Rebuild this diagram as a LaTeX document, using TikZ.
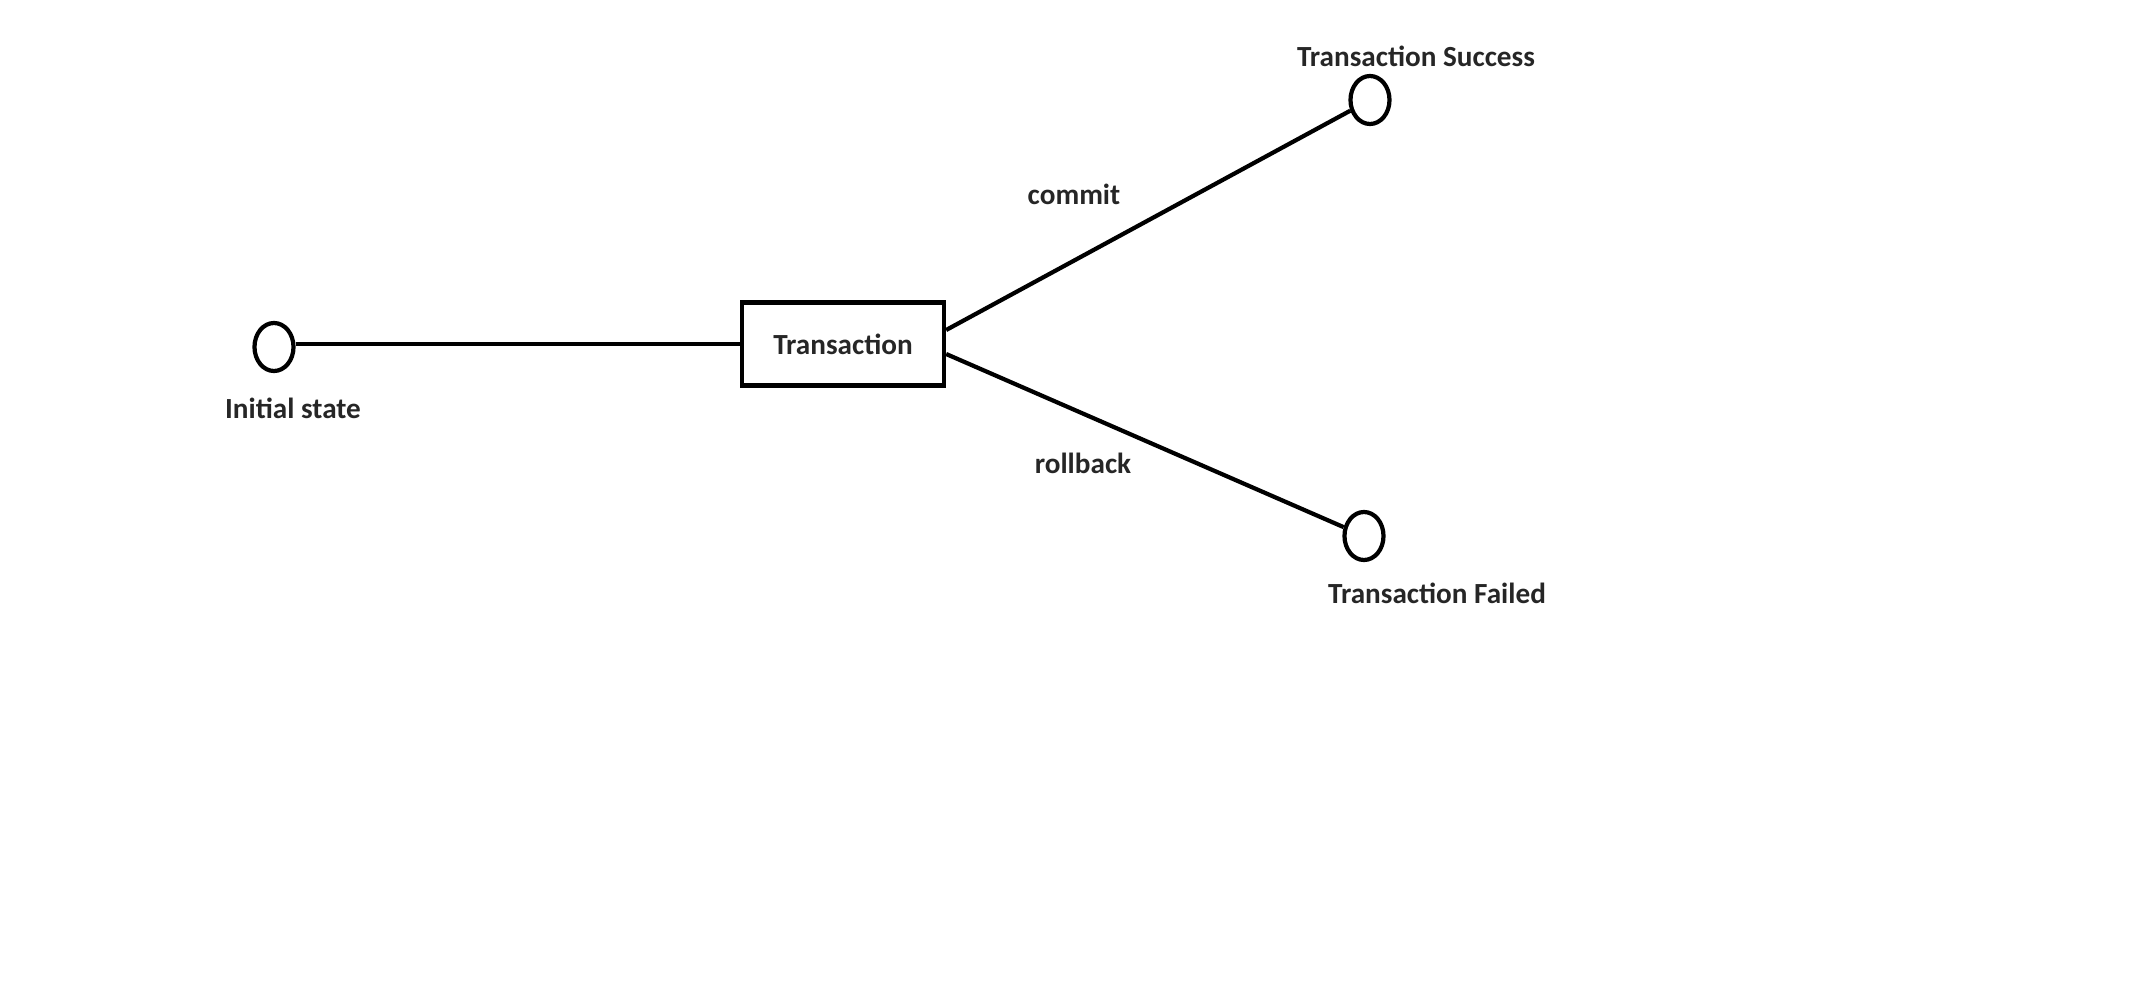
\documentclass[tikz,border=0pt]{standalone}
\usepackage{fontspec}
\setmainfont{Carlito}
\usetikzlibrary{shapes.geometric}

\begin{document}
\begin{tikzpicture}[x=0.01cm,y=-0.01cm,line width=1.2pt,font=\fontsize{8.3pt}{10pt}\selectfont\bfseries,
    state/.style={draw,ellipse,minimum width=0.39cm,minimum height=0.48cm,inner sep=0pt},
    txbox/.style={draw,rectangle,minimum width=2.02cm,minimum height=0.83cm,text=black!85},
    lbl/.style={text=black!85}]
            \useasboundingbox (0,0) rectangle (2156,997);
            \node [state] (Init) at (274, 347) {};%
            \node [txbox] (Tx) at (843, 344) {Transaction};%
            \node [state] (Succ) at (1370, 100) {};%
            \node [state] (Fail) at (1364, 536) {};%
            \draw (Init.east |- Tx) to (Tx);
            \draw ([yshift=0.14cm]Tx.east) to (Succ);
            \draw ([yshift=-0.1cm]Tx.east) to (Fail);
            \node [lbl] (InitL) at (293, 408) {Initial state};%
            \node [lbl] (SuccL) at (1416, 56) {Transaction Success};%
            \node [lbl] (FailL) at (1437, 593) {Transaction Failed};%
            \node [lbl] (Commit) at (1074, 194) {commit};%
            \node [lbl] (Rollback) at (1083, 463) {rollback};%
        \end{tikzpicture}
\end{document}
